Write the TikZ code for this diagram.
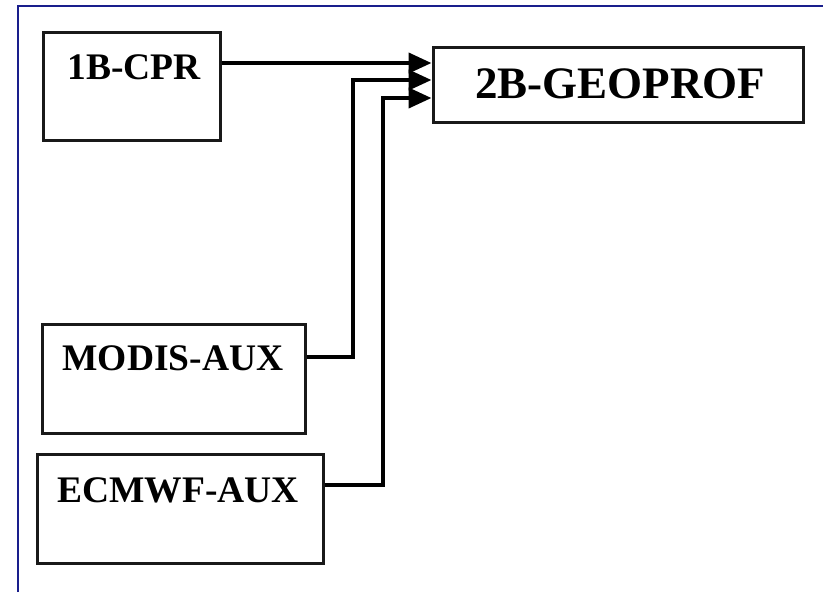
\documentclass[tikz,border=0pt]{standalone}
\usepackage{fontspec}
\setmainfont{Liberation Serif}
\usetikzlibrary{arrows.meta}
\definecolor{framenavy}{RGB}{25,30,140}
\tikzset{
  box/.style={draw=black!90, line width=3pt, fill=white, inner sep=0pt},
  lbl/.style={inner sep=0pt, font=\bfseries\fontsize{37.5}{42}\selectfont},
  biglbl/.style={inner sep=0pt, font=\bfseries\fontsize{45}{50}\selectfont},
  conn/.style={line width=4pt, line join=miter, -{Triangle[length=23pt,width=20pt]}}
}
\begin{document}
\begin{tikzpicture}[x=1pt,y=1pt]
\useasboundingbox (0,0) rectangle (825,-592);
\draw[framenavy, line width=2pt] (18,-592) -- (18,-6) -- (823,-6);
% boxes
\node[box, minimum width=177pt, minimum height=108pt] (cpr) at (131.5,-86) {};
\node[box, minimum width=370pt, minimum height=75pt] (geo) at (618,-84.5) {};
\node[box, minimum width=263pt, minimum height=109pt] (modis) at (173.5,-378.5) {};
\node[box, minimum width=286pt, minimum height=109pt] (ecmwf) at (180,-508.5) {};
% labels
\node[lbl] (cprt) at (134,-67) {1B-CPR};
\node[biglbl] (geot) at (620,-84) {2B-GEOPROF};
\node[lbl] (modist) at (173,-358) {MODIS-AUX};
\node[lbl] (ecmwft) at (178,-490) {ECMWF-AUX};
% routing coordinates
\coordinate (m1) at (353,-357);
\coordinate (m2) at (353,-80);
\coordinate (e1) at (383,-485);
\coordinate (e2) at (383,-98);
% connectors
\draw[conn] (cpr.east |- 0,-63) -- (geo.west |- 0,-63);
\draw[conn] (modis.east |- m1) -- (m1) -- (m2) -- (geo.west |- m2);
\draw[conn] (ecmwf.east |- e1) -- (e1) -- (e2) -- (geo.west |- e2);
\end{tikzpicture}
\end{document}
